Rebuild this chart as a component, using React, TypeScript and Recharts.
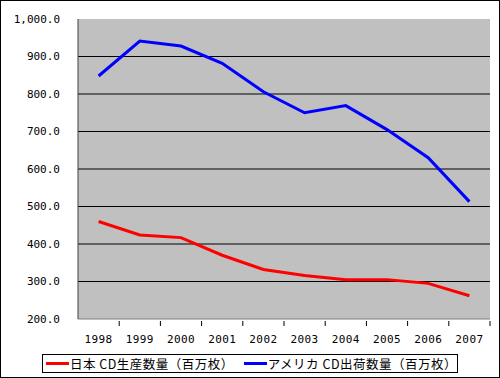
import { LineChart, Line, XAxis, YAxis, CartesianGrid } from "recharts"

const years = ["1998", "1999", "2000", "2001", "2002", "2003", "2004", "2005", "2006", "2007"]
const japanCd = [460, 424, 417, 370, 332, 316, 305, 305, 295, 262]
const usCd = [848, 941, 928, 882, 806, 750, 769, 705, 630, 513]
const yTicks = [200, 300, 400, 500, 600, 700, 800, 900, 1000]

const JP_NAME = "日本 CD生産数量（百万枚）"
const US_NAME = "アメリカ CD出荷数量（百万枚）"

const data = years.map((year, i) => ({ year, jp: japanCd[i], us: usCd[i] }))

const BAND = 41.2

const YearTick = (props: any) => {
  const { x, y, payload } = props
  return (
    <g>
      <line x1={x + BAND / 2} y1={y - 6} x2={x + BAND / 2} y2={y - 1} stroke="#000" />
      <text
        x={x}
        y={y + 16}
        textAnchor="middle"
        fontFamily="DejaVu Sans Mono"
        fontSize={11}
        letterSpacing={0.4}
        fill="#000"
      >
        {payload.value}
      </text>
    </g>
  )
}

const LegendBox = () => (
  <div
    style={{
      position: "absolute",
      left: 41,
      top: 353,
      width: 416,
      height: 19,
      boxSizing: "border-box",
      border: "1px solid #000",
      background: "#fff",
      fontFamily: "'Noto Sans CJK JP'",
      fontSize: 12.5,
      letterSpacing: 0.5,
      lineHeight: "17px",
      color: "#000",
      display: "flex",
      alignItems: "center",
      whiteSpace: "pre",
    }}
  >
    <span style={{ display: "inline-block", width: 28, height: 3, background: "#ff0000", marginLeft: 3 }} />
    <span style={{ marginLeft: 1 }}>{JP_NAME}</span>
    <span style={{ display: "inline-block", width: 28, height: 3, background: "#0000ff", marginLeft: 10 }} />
    <span style={{ marginLeft: 1 }}>{US_NAME}</span>
  </div>
)

export default function App() {
  return (
    <div
      style={{
        position: "absolute",
        left: 0,
        top: 0,
        width: 500,
        height: 378,
        boxSizing: "border-box",
        border: "1px solid #000",
        background: "#fff",
      }}
    >
      <LineChart
        width={498}
        height={376}
        data={data}
        margin={{ top: 18, right: 9, bottom: 28, left: 7 }}
      >
        <CartesianGrid
          vertical={false}
          fill="#c0c0c0"
          stroke="#000"
          horizontalValues={[300, 400, 500, 600, 700, 800, 900]}
        />
        <XAxis
          dataKey="year"
          height={30}
          padding={{ left: BAND / 2, right: BAND / 2 }}
          axisLine={{ stroke: "#808080" }}
          tickLine={false}
          tick={<YearTick />}
          interval={0}
        />
        <YAxis
          width={70}
          domain={[200, 1000]}
          ticks={yTicks}
          interval={0}
          axisLine={{ stroke: "#404040" }}
          tickLine={false}
          tickSize={0}
          tickMargin={18}
          tickFormatter={(v: number) =>
            v.toLocaleString("en-US", { minimumFractionDigits: 1, maximumFractionDigits: 1 })
          }
          tick={{ fontFamily: "DejaVu Sans Mono", fontSize: 11, fill: "#000" }}
        />
        <YAxis
          yAxisId="r"
          orientation="right"
          width={0}
          domain={[200, 1000]}
          axisLine={{ stroke: "#808080" }}
          tick={false}
          tickLine={false}
        />
        <XAxis
          xAxisId="t"
          orientation="top"
          dataKey="year"
          height={0}
          axisLine={{ stroke: "#808080" }}
          tick={false}
          tickLine={false}
        />
        <Line
          type="linear"
          dataKey="jp"
          name={JP_NAME}
          stroke="#ff0000"
          strokeWidth={3}
          dot={false}
          isAnimationActive={false}
        />
        <Line
          type="linear"
          dataKey="us"
          name={US_NAME}
          stroke="#0000ff"
          strokeWidth={3}
          dot={false}
          isAnimationActive={false}
        />
      </LineChart>
      <LegendBox />
    </div>
  )
}
